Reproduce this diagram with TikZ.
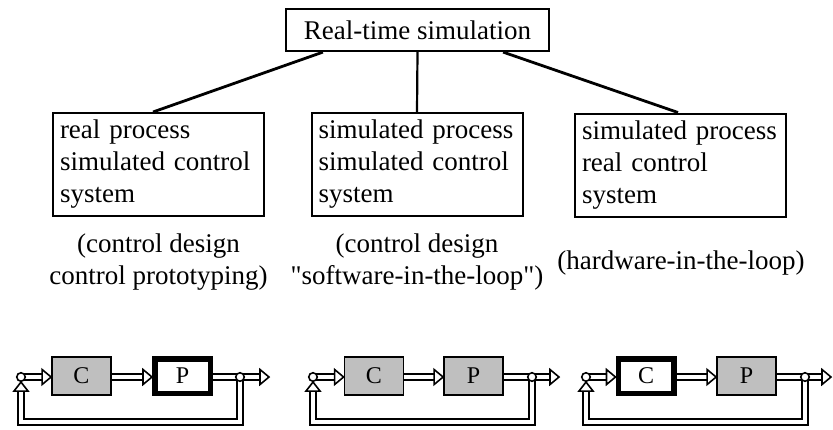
\documentclass[tikz,border=0pt]{standalone}
\usepackage{fontspec}
\setmainfont{Liberation Serif}[Ligatures=TeXOff]
\usetikzlibrary{backgrounds}
\begin{document}
\begin{tikzpicture}[x=1pt,y=-1pt,
  tbox/.style={draw, line width=2pt, text width=197pt, align=left, inner xsep=7pt, inner ysep=0pt, minimum height=103pt, font=\fontsize{27}{32}\selectfont},
  topbox/.style={draw, line width=2.2pt, minimum width=263pt, minimum height=42pt, inner sep=0pt, font=\fontsize{27}{32}\selectfont},
  lbl/.style={align=center, inner sep=0pt, font=\fontsize{27}{32}\selectfont},
  link/.style={line width=2.8pt},
  gbox/.style={draw, line width=1.8pt, fill=black!25, minimum width=59pt, minimum height=38pt, inner sep=0pt, font=\fontsize{24}{28}\selectfont},
  kbox/.style={draw, line width=5.5pt, fill=white, minimum width=55.5pt, minimum height=34.5pt, inner sep=0pt, font=\fontsize{24}{28}\selectfont},
  sj/.style={circle, draw, line width=1.6pt, fill=white, minimum size=8.5pt, inner sep=0pt},
  dbl/.style={draw, line width=1.8pt, double=white, double distance=4pt},
  hd/.style={draw, line width=1.6pt, fill=white, line join=miter}
]
\useasboundingbox (0,0) rectangle (833,429);

% top hierarchy
\node[topbox] (top) at (417.5,30) {Real-time simulation};
\node[tbox] (b1) at (158.5,164.5) {real process\\simulated control\\system};
\node[tbox] (b2) at (417,164.5) {simulated process\\simulated control\\system};
\node[tbox] (b3) at (680.5,165) {simulated process\\real control\\system};

\draw[link] ([xshift=38pt]top.south west) -- ([xshift=101pt]b1.north west);
\draw[line width=2.2pt] (top.south) -- (b2.north);
\draw[link] ([xshift=-47pt]top.south east) -- ([xshift=104pt]b3.north west);

\node[lbl] (l1) at (158.5,262) {(control design\\control prototyping)};
\node[lbl] (l2) at (417,262) {(control design\\"software-in-the-loop")};
\node[lbl] (l3) at (681,263) {(hardware-in-the-loop)};

% loop 1
\node[sj] (s1) at (21,377) {};
\node[gbox] (c1) at (81.5,376) {C};
\node[kbox] (p1) at (182.5,376) {P};
\node[sj] (j1) at (240,377) {};
\coordinate (e1) at (269,377);
% loop 2
\node[sj] (s2) at (313,377) {};
\node[gbox] (c2) at (374,376) {C};
\node[gbox] (p2) at (473.5,376) {P};
\node[sj] (j2) at (532,377) {};
\coordinate (e2) at (559,377);
% loop 3
\node[sj] (s3) at (586,377) {};
\node[kbox] (c3) at (646,376) {C};
\node[gbox] (p3) at (746.5,376) {P};
\node[sj] (j3) at (805,377) {};
\coordinate (e3) at (831,377);

\begin{scope}[on background layer]
\foreach \i in {1,2,3}{
  \draw[dbl] (s\i.center) -- ([xshift=-9pt]c\i.west |- s\i.center);
  \draw[dbl] (c\i.east |- s\i.center) -- ([xshift=-9pt]p\i.west |- s\i.center);
  \draw[dbl] (p\i.east |- s\i.center) -- (j\i.center) -- ([xshift=-9pt]e\i);
  \draw[dbl] (j\i.center) -- ++(0,45) -| ([yshift=-9pt]s\i.south);
}
\end{scope}
\foreach \i in {1,2,3}{
  \draw[hd] (c\i.west |- s\i.center) -- ++(-9,-7.5) -- ++(0,15) -- cycle;
  \draw[hd] (p\i.west |- s\i.center) -- ++(-9,-7.5) -- ++(0,15) -- cycle;
  \draw[hd] (e\i) -- ++(-9,-7.5) -- ++(0,15) -- cycle;
  \draw[hd] (s\i.south) -- ++(-7,9) -- ++(14,0) -- cycle;
}
\end{tikzpicture}
\end{document}
